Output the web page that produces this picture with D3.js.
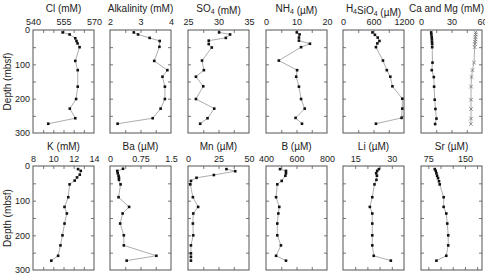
<!DOCTYPE html>
<html>
<head>
<meta charset="utf-8">
<script src="https://cdn.jsdelivr.net/npm/d3@7"></script>
<style>
  body { margin: 0; background: #fff; }
  svg { font-family: "Liberation Sans", Arial, sans-serif; }
</style>
</head>
<body>
<svg id="chart" width="485" height="277"></svg>
<script>
// ---- data: [value, depth (mbsf)] ----
const cl = [[554.6,7],[558,13],[560.8,24],[561.4,32],[561.9,39],[562.9,50],[560.8,90],[562,117],[562,165],[561.2,201],[558.1,229],[560.8,257],[547.5,273]];
const alkalinity = [[2.78,7],[2.92,13],[3.3,23],[3.63,32],[3.62,49],[3.45,90],[3.88,117],[3.72,136],[3.8,165],[3.8,201],[3.66,229],[3.4,257],[2.25,273]];
const so4 = [[30.1,7],[31.9,13],[31.2,23],[28.4,31],[28.4,41],[28.9,51],[27.3,89],[27.6,117],[26.3,136],[27.5,164],[26.3,201],[29.3,229],[28.2,257],[27,273]];
const nh4 = [[10.1,7],[11,13],[10.8,22],[10.8,31],[14.4,40],[11.5,50],[4.2,89],[10.2,117],[9.9,136],[10.8,165],[11.5,201],[12.7,229],[9.7,256],[11.8,273]];
const h4sio4 = [[579,7],[628,14],[683,22],[717,32],[676,39],[648,50],[786,89],[862,117],[931,136],[972,164],[1166,200],[1166,229],[1152,256],[648,273]];
const ca = [[10,7],[10.2,13],[10.5,20],[10.7,27],[10.8,34],[11,41],[11,50],[11.3,95],[10.6,117],[12.6,137],[12.9,165],[13.5,203],[14.2,230],[15.2,258],[13.9,274]];
const mg = [[53.8,7],[53.8,13],[53.6,20],[53.5,27],[53.2,34],[53,41],[52.8,50],[52.1,95],[50.6,117],[49.7,137],[49.2,165],[49.2,203],[49.2,230],[49.2,258],[49,274]];

const k = [[12.43,9],[12.7,14],[12.6,25],[12.33,33],[12.1,42],[11.6,53],[11.47,90],[11.1,118],[11.33,137],[11.1,166],[10.9,200],[10.7,229],[10.47,259],[9.8,273]];
const ba = [[0.32,8],[0.18,14],[0.19,21],[0.21,28],[0.22,34],[0.22,40],[0.26,53],[0.21,90],[0.47,118],[0.31,137],[0.25,166],[0.34,200],[0.34,229],[1.14,259],[0.41,273]];
const mn = [[31.5,9],[38.7,15],[21.2,26],[7,34],[2.4,43],[1.9,53],[4,90],[8.3,118],[4.3,137],[4,166],[4.3,200],[2.4,229],[2.4,252],[2.4,262],[2.4,273]];
const b = [[492,9],[531,14],[531,21],[527,28],[503,43],[474,53],[466,90],[487,118],[481,137],[474,166],[474,200],[498,229],[466,259],[531,273]];
const li = [[24.7,9],[24,14],[23.6,21],[23.9,28],[23.7,40],[22.9,53],[22,90],[21,118],[22,137],[22,166],[22,200],[22,229],[22.6,259],[29.6,273]];
const sr = [[88.2,9],[90.2,14],[91.6,21],[93,28],[94.9,35],[96.9,44],[98.3,53],[106.4,90],[106.4,118],[111.8,137],[113.8,166],[115.8,200],[115.8,229],[111.8,259],[91.6,273]];

const depthLabels = [0, 100, 200, 300];
const depthTicks = [50, 100, 150, 200, 250];

// panel specs: title parts [text, subscript?], x domain, tick values, label values
const topRow = [
  { title: [["Cl (mM)"]], domain: [540, 570], ticks: [545, 550, 555, 560, 565], labels: [540, 555, 570], series: [cl] },
  { title: [["Alkalinity (mM)"]], domain: [2, 4], ticks: [2.5, 3, 3.5], labels: [2, 3, 4], series: [alkalinity] },
  { title: [["SO"], ["4", true], [" (mM)"]], domain: [25, 35], ticks: [27.5, 30, 32.5], labels: [25, 30, 35], series: [so4] },
  { title: [["NH"], ["4", true], [" (\u00b5M)"]], domain: [0, 20], ticks: [5, 10, 15], labels: [0, 10, 20], series: [nh4] },
  { title: [["H"], ["4", true], ["SiO"], ["4", true], [" (\u00b5M)"]], domain: [0, 1200], ticks: [300, 600, 900], labels: [0, 600, 1200], series: [h4sio4] },
  { title: [["Ca and Mg (mM)"]], domain: [0, 60], ticks: [15, 30, 45], labels: [0, 30, 60], series: [ca, mg] }
];
const bottomRow = [
  { title: [["K (mM)"]], domain: [8, 14], ticks: [9, 10, 11, 12, 13], labels: [8, 10, 12, 14], series: [k] },
  { title: [["Ba (\u00b5M)"]], domain: [0, 1.5], ticks: [0.375, 0.75, 1.125], labels: [0, 0.75, 1.5], series: [ba] },
  { title: [["Mn (\u00b5M)"]], domain: [0, 50], ticks: [12.5, 25, 37.5], labels: [0, 25, 50], series: [mn] },
  { title: [["B (\u00b5M)"]], domain: [400, 800], ticks: [500, 600, 700], labels: [400, 600, 800], series: [b] },
  { title: [["Li (\u00b5M)"]], domain: [10, 35], ticks: [15, 20, 25, 30], labels: [15, 30], series: [li] },
  { title: [["Sr (\u00b5M)"]], domain: [60, 185], ticks: [75, 100, 125, 150, 175], labels: [75, 150], series: [sr] }
];

// ---- layout ----
const svg = d3.select("#chart");
const W = 485;
const lefts = [33, 110, 188, 266, 343, 421];
const panelW = 61;
const rows = [
  { panels: topRow, top: 30, h: 103, titleY: 12, labelY: 24.5 },
  { panels: bottomRow, top: 166, h: 104, titleY: 150, labelY: 162 }
];
const frameColor = "#555";
const lineColor = "#8a8a8a";
const plain = d => String(d);

function styleAxis(g) {
  g.select(".domain").remove();
  g.selectAll(".tick line").attr("stroke", frameColor).attr("stroke-width", 0.8);
  g.selectAll("text").attr("fill", "#222").attr("font-size", 9);
}

rows.forEach((row) => {
  const y = d3.scaleLinear().domain([0, 300]).range([0, row.h]);

  row.panels.forEach((p, i) => {
    const x = d3.scaleLinear().domain(p.domain).range([0, panelW]);
    const g = svg.append("g").attr("transform", `translate(${lefts[i]},${row.top})`);

    // title
    const t = svg.append("text")
      .attr("x", lefts[i] + panelW / 2)
      .attr("y", row.titleY)
      .attr("text-anchor", "middle")
      .attr("font-size", 10)
      .attr("fill", "#222");
    p.title.forEach(([s, sub]) => {
      t.append("tspan")
        .attr("font-size", sub ? 7 : 10)
        .attr("dy", sub ? 2 : 0)
        .text(s);
      if (sub) t.append("tspan").attr("font-size", 10).attr("dy", -2).text("");
    });
    // keep the last title inside the picture
    const bb = t.node().getBBox();
    if (bb.x + bb.width > W - 1) t.attr("x", +t.attr("x") - (bb.x + bb.width - (W - 1)));

    // inward ticks on all four sides
    g.append("g").call(d3.axisTop(x).tickValues(p.ticks).tickSize(-3).tickFormat("")).call(styleAxis);
    g.append("g").attr("transform", `translate(0,${row.h})`)
      .call(d3.axisBottom(x).tickValues(p.ticks).tickSize(-3).tickFormat("")).call(styleAxis);
    g.append("g").call(d3.axisLeft(y).tickValues(depthTicks).tickSize(-3).tickFormat("")).call(styleAxis);
    g.append("g").attr("transform", `translate(${panelW},0)`)
      .call(d3.axisRight(y).tickValues(depthTicks).tickSize(-3).tickFormat("")).call(styleAxis);

    // value labels above the frame
    g.append("g").attr("transform", `translate(0,${row.labelY - row.top + 4})`)
      .call(d3.axisTop(x).tickValues(p.labels).tickSize(0).tickPadding(4).tickFormat(plain)).call(styleAxis);

    // depth labels on the first panel
    if (i === 0) {
      g.append("g").call(d3.axisLeft(y).tickValues(depthLabels).tickSize(0).tickPadding(3).tickFormat(plain)).call(styleAxis);
      svg.append("text")
        .attr("transform", `translate(11,${row.top + row.h / 2}) rotate(-90)`)
        .attr("text-anchor", "middle")
        .attr("font-size", 10)
        .attr("fill", "#222")
        .text("Depth (mbsf)");
    }

    // frame
    g.append("rect").attr("width", panelW).attr("height", row.h)
      .attr("fill", "none").attr("stroke", frameColor).attr("stroke-width", 1);

    const line = d3.line().x(d => x(d[0])).y(d => y(d[1]));
    p.series.forEach((s) => {
      g.append("path").datum(s).attr("d", line)
        .attr("fill", "none").attr("stroke", lineColor).attr("stroke-width", 0.7);
      if (s === mg) {
        g.selectAll(null).data(s).enter().append("path")
          .attr("d", d => {
            const cx = x(d[0]), cy = y(d[1]), r = 1.8;
            return `M${cx - r},${cy - r}L${cx + r},${cy + r}M${cx - r},${cy + r}L${cx + r},${cy - r}`;
          })
          .attr("stroke", "#666").attr("stroke-width", 0.7);
      } else {
        g.selectAll(null).data(s).enter().append("rect")
          .attr("x", d => x(d[0]) - 1.3).attr("y", d => y(d[1]) - 1.3)
          .attr("width", 2.6).attr("height", 2.6).attr("fill", "#111");
      }
    });
  });
});
</script>
</body>
</html>
